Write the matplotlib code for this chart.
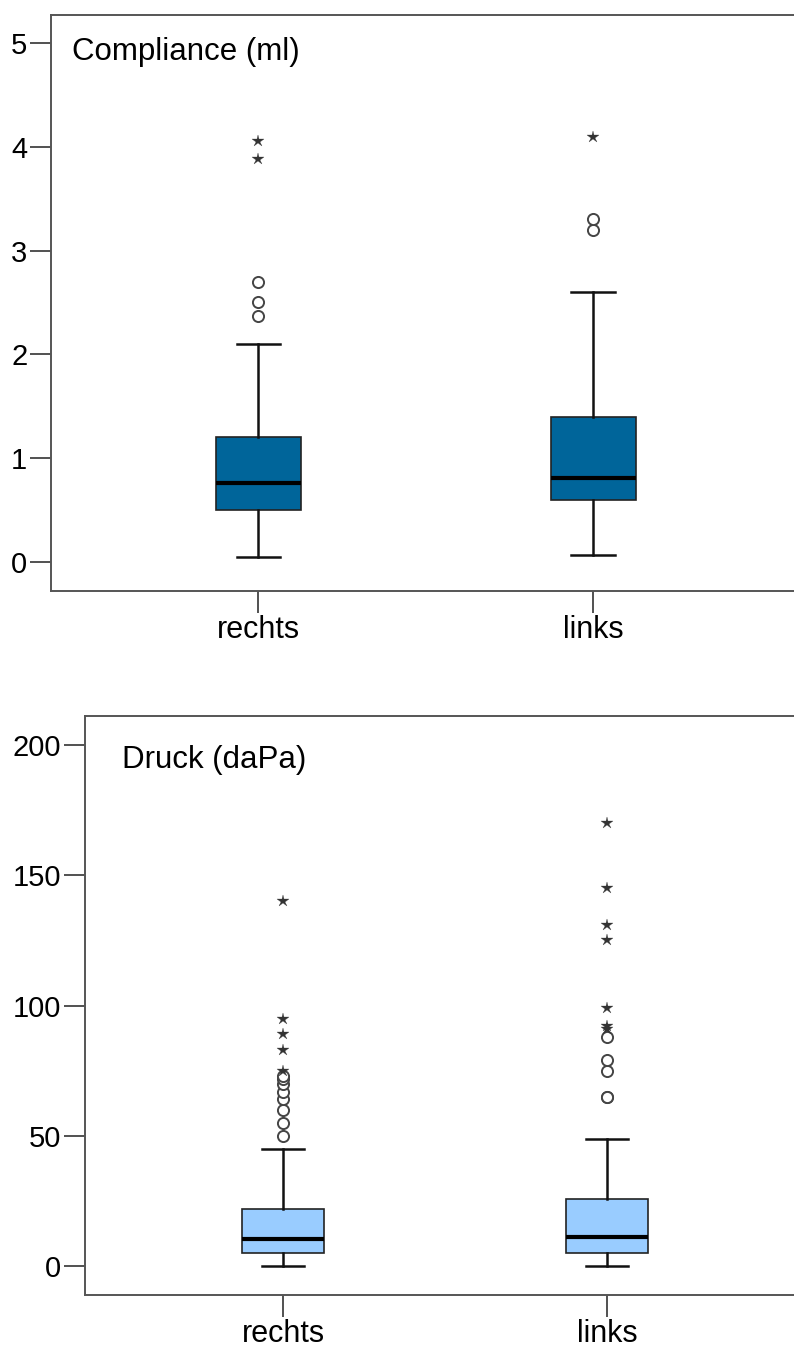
#! /usr/bin/env python3

import matplotlib
matplotlib.use("Agg")
import matplotlib.pyplot as plt

plt.rcParams['font.family'] = ['Liberation Sans', 'DejaVu Sans']

# categories
groups = ["rechts", "links"]

# Compliance (ml) - box summary values
comp_whislo = [0.05, 0.07]
comp_q1 = [0.50, 0.60]
comp_med = [0.76, 0.81]
comp_q3 = [1.20, 1.40]
comp_whishi = [2.10, 2.60]
comp_circles = [[2.37, 2.50, 2.70], [3.20, 3.30]]
comp_stars = [[3.88, 4.06], [4.09]]

# Druck (daPa)
druck_whislo = [0, 0]
druck_q1 = [5, 5]
druck_med = [10.5, 11.3]
druck_q3 = [22, 26]
druck_whishi = [45, 49]
druck_circles = [[50, 55, 60, 64, 67, 70, 72, 73], [65, 65, 75, 79, 88]]
druck_stars = [[75, 83, 89, 95, 140], [91, 92, 99, 125, 131, 145, 170]]

comp_ticks = [0, 1, 2, 3, 4, 5]
druck_ticks = [0, 50, 100, 150, 200]


def draw_panel(ax, whislo, q1, med, q3, whishi, circles, stars, color, title,
               yticks, ylim, xlim, title_xy):
    stats = []
    for i in range(len(groups)):
        stats.append({"whislo": whislo[i], "q1": q1[i], "med": med[i],
                      "q3": q3[i], "whishi": whishi[i], "fliers": [],
                      "label": groups[i]})
    ax.bxp(stats, positions=[1, 2], widths=0.255, patch_artist=True,
           showfliers=False,
           boxprops=dict(facecolor=color, edgecolor="#222222", linewidth=1.2),
           medianprops=dict(color="black", linewidth=3),
           whiskerprops=dict(color="#111111", linewidth=1.8),
           capprops=dict(color="#111111", linewidth=1.8),
           capwidths=0.13)
    # outliers: circles for mild, stars for extreme
    for i in range(len(groups)):
        ax.plot([i + 1] * len(circles[i]), circles[i], linestyle="none",
                marker="o", markersize=8, markerfacecolor="white",
                markeredgecolor="#444444", markeredgewidth=1.4)
        ax.plot([i + 1] * len(stars[i]), stars[i], linestyle="none",
                marker="*", markersize=9, color="#333333",
                markeredgewidth=0.2)
    ax.set_xlim(xlim)
    ax.set_ylim(ylim)
    ax.set_yticks(yticks)
    ax.set_xticks([1, 2])
    ax.set_xticklabels(groups)
    ax.tick_params(axis="y", length=15, width=1.2, color="#333333",
                   labelsize=21, pad=2)
    ax.tick_params(axis="x", length=16, width=1.2, color="#333333",
                   labelsize=22, pad=1)
    ax.spines["right"].set_visible(False)
    for s in ["left", "top", "bottom"]:
        ax.spines[s].set_color("#555555")
        ax.spines[s].set_linewidth(1.4)
    ax.text(title_xy[0], title_xy[1], title, transform=ax.transAxes,
            fontsize=22.5, ha="left", va="center")


fig = plt.figure(figsize=(7.94, 13.47), dpi=100)

ax1 = fig.add_axes([0.0642, 0.5612, 0.9358, 0.4277])
draw_panel(ax1, comp_whislo, comp_q1, comp_med, comp_q3, comp_whishi,
           comp_circles, comp_stars, "#00659a", "Compliance (ml)",
           comp_ticks, (-0.28, 5.27), (0.38, 2.6), (0.028, 0.936))

ax2 = fig.add_axes([0.107, 0.0386, 0.893, 0.4301])
draw_panel(ax2, druck_whislo, druck_q1, druck_med, druck_q3, druck_whishi,
           druck_circles, druck_stars, "#99ccff", "Druck (daPa)",
           druck_ticks, (-11, 211.2), (0.389, 2.577), (0.052, 0.923))

fig.savefig("out.png", dpi=100)
